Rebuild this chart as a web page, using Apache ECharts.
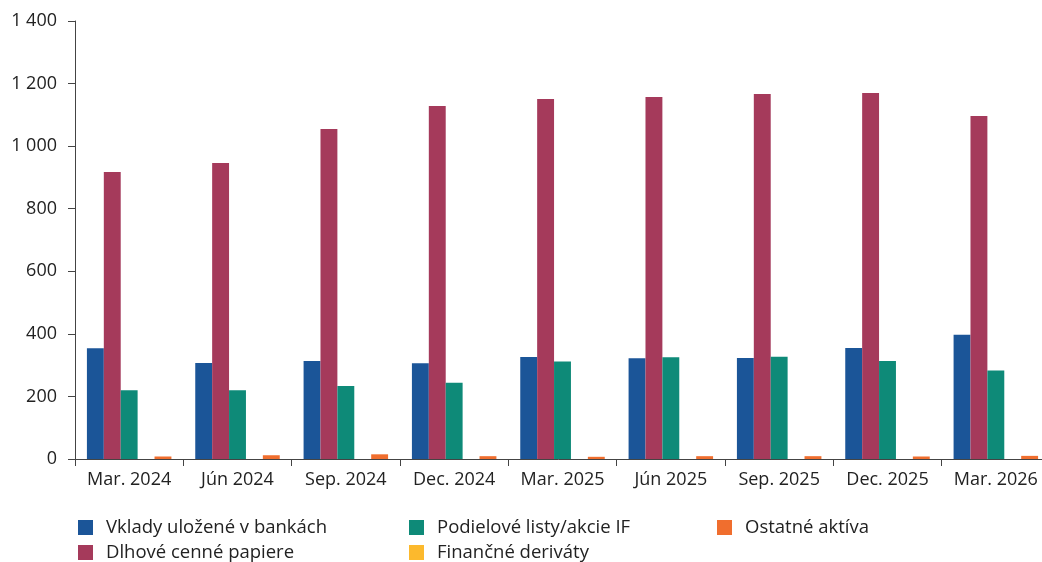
<!DOCTYPE html>
<html>
<head>
<meta charset="utf-8">
<script src="https://cdn.jsdelivr.net/npm/echarts@6/dist/echarts.min.js"></script>
<style>
  html, body { margin: 0; padding: 0; background: #fff; }
  #main { width: 1042px; height: 562px; }
</style>
</head>
<body>
<div id="main"></div>
<script>
var categories = ['Mar. 2024', 'Jún 2024', 'Sep. 2024', 'Dec. 2024', 'Mar. 2025', 'Jún 2025', 'Sep. 2025', 'Dec. 2025', 'Mar. 2026'];
var vklady = [354, 307, 313, 306, 326, 322, 323, 355, 397];
var dlhove = [917, 946, 1055, 1128, 1151, 1157, 1167, 1170, 1096];
var podielove = [220, 220, 233, 244, 312, 325, 327, 313, 283];
var derivaty = [0, 0, 0, 0, 0, 0, 0, 0, 0];
var ostatne = [8, 12, 15, 9, 7, 9, 9, 8, 10];

var fontFam = '"Open Sans", Lato, sans-serif';
var myChart = echarts.init(document.getElementById('main'));

// jedna legenda pre kazdu polozku, aby sedela mriezka 3 x 2
function legendAt(left, top, name) {
  return {
    left: left, top: top, orient: 'horizontal',
    icon: 'rect', itemWidth: 15, itemHeight: 15, padding: 0,
    textStyle: { fontFamily: fontFam, fontSize: 18.5, color: '#222', padding: [0, 0, 0, 8] },
    data: [name]
  };
}

var option = {
  animation: false,
  textStyle: { fontFamily: fontFam },
  grid: { left: 75, top: 21, width: 975, height: 438, outerBoundsMode: 'none', containLabel: false },
  legend: [
    legendAt(78, 518, 'Vklady uložené v bankách'),
    legendAt(78, 543, 'Dlhové cenné papiere'),
    legendAt(409, 518, 'Podielové listy/akcie IF'),
    legendAt(409, 543, 'Finančné deriváty'),
    legendAt(717, 518, 'Ostatné aktíva')
  ],
  xAxis: {
    type: 'category',
    data: categories,
    axisLine: { lineStyle: { color: '#444', width: 1 } },
    axisTick: { show: true, interval: 0, length: 7, lineStyle: { color: '#444' } },
    axisLabel: { interval: 0, hideOverlap: false, fontFamily: fontFam, fontSize: 18, color: '#222', margin: 12 }
  },
  yAxis: {
    type: 'value',
    min: 0, max: 1400, interval: 200,
    splitLine: { show: false },
    axisLine: { show: true, lineStyle: { color: '#444', width: 1 } },
    axisTick: { show: true, length: 7, lineStyle: { color: '#444' } },
    axisLabel: {
      fontFamily: fontFam, fontSize: 18, color: '#222', margin: 18,
      formatter: function (v) { return String(v).replace(/\B(?=(\d{3})+(?!\d))/g, ' '); }
    }
  },
  series: [
    { name: 'Vklady uložené v bankách', type: 'bar', data: vklady, itemStyle: { color: '#1B5598' }, barGap: '0%', barCategoryGap: '22%' },
    { name: 'Dlhové cenné papiere', type: 'bar', data: dlhove, itemStyle: { color: '#A53A5B' } },
    { name: 'Podielové listy/akcie IF', type: 'bar', data: podielove, itemStyle: { color: '#0E8A78' } },
    { name: 'Finančné deriváty', type: 'bar', data: derivaty, itemStyle: { color: '#FCB92D' } },
    { name: 'Ostatné aktíva', type: 'bar', data: ostatne, itemStyle: { color: '#F06E2E' } }
  ]
};
myChart.setOption(option);
</script>
</body>
</html>
